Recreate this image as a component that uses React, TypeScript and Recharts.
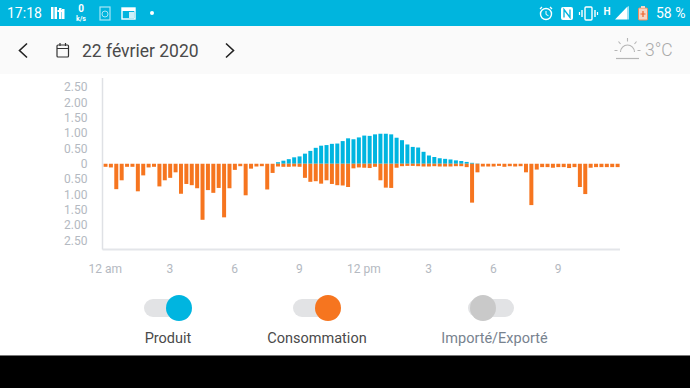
import React from "react";
import { BarChart, Bar, XAxis, YAxis } from "recharts";

const produced = [0,0,0,0,0,0,0,0,0,0,0,0,0,0,0,0,0,0,0,0,0,0,0,0,0,0,0,0,0,0,0,0,
  0.05,0.1,0.15,0.21,0.24,0.33,0.42,0.52,0.59,0.61,0.65,0.66,0.74,0.83,0.8,0.86,0.92,0.91,0.96,0.98,0.98,0.96,0.85,0.77,0.63,0.55,0.53,0.39,0.27,0.22,0.18,0.16,0.14,0.11,0.09,0.06,0.03,0.01,
  0,0,0,0,0,0,0,0,0,0,0,0,0,0,0,0,0,0,0,0,0,0,0,0,0,0];
const consumed = [0.1,0.12,0.83,0.54,0.1,0.1,0.9,0.38,0.12,0.1,0.74,0.54,0.46,0.28,0.98,0.66,0.7,0.8,1.83,0.86,0.95,0.79,1.75,0.8,0.2,0.08,1.03,0.16,0.09,0.08,0.84,0.3,
  0.09,0.1,0.1,0.09,0.1,0.46,0.59,0.57,0.65,0.54,0.66,0.7,0.71,0.76,0.15,0.12,0.13,0.14,0.1,0.54,0.78,0.79,0.13,0.08,0.07,0.07,0.08,0.09,0.09,0.08,0.09,0.09,0.09,0.08,0.08,0.11,1.27,0.28,
  0.09,0.09,0.09,0.07,0.1,0.08,0.09,0.08,0.28,1.35,0.19,0.11,0.11,0.13,0.11,0.11,0.14,0.11,0.76,0.99,0.13,0.11,0.11,0.11,0.11,0.11];
const xTickLabels = ["12 am","3","6","9","12 pm","3","6","9"];
const yTicks = [-2.5,-2,-1.5,-1,-0.5,0,0.5,1,1.5,2,2.5];
const legendItems = [
  { name: "Produit", color: "#00b5e0", knob: 179, left: 144, cx: 168, text: "#4a4a4a" },
  { name: "Consommation", color: "#f6751f", knob: 327.5, left: 293, cx: 317, text: "#4a4a4a" },
  { name: "Importé/Exporté", color: "#c9c9c9", knob: 483, left: 468, cx: 494.5, text: "#78838f" },
];
const rows = produced.map((p, i) => ({ slot: i, produced: p, consumed: -consumed[i] }));

const abs = (style: React.CSSProperties): React.CSSProperties => ({ position: "absolute", ...style });
const font = "Roboto, sans-serif";

function StatusBar() {
  return (
    <div style={abs({ left: 0, top: 0, width: 690, height: 26, background: "#00b5de", color: "#fff", fontFamily: font })}>
      <div style={abs({ left: 7, top: 4, fontSize: 14, lineHeight: "18px" })}>17:18</div>
      <svg width={690} height={26} style={abs({ left: 0, top: 0 })}>
        <g fill="#fff">
          <rect x={51} y={7} width={2.5} height={12} /><rect x={54.5} y={7} width={2.5} height={12} />
          <rect x={59} y={8} width={2.5} height={11} /><rect x={57.5} y={10} width={6} height={2} />
          <rect x={62} y={9} width={2.5} height={10} />
        </g>
        <text x={81} y={12} fontSize={10} fontFamily={font} fontWeight={700} fill="#fff" textAnchor="middle">0</text>
        <text x={81} y={21} fontSize={7} fontFamily={font} fontWeight={700} fill="#fff" textAnchor="middle">k/s</text>
        <rect x={100} y={7} width={10} height={13} fill="none" stroke="#a8e6f5" strokeWidth={1.2} />
        <circle cx={105} cy={14} r={3} fill="none" stroke="#a8e6f5" />
        <rect x={122} y={8} width={13} height={11} fill="none" stroke="#fff" strokeWidth={1.4} />
        <rect x={122} y={8} width={13} height={3} fill="#fff" />
        <rect x={129} y={12} width={5} height={6} fill="#fff" opacity={0.8} />
        <circle cx={152} cy={13} r={2} fill="#fff" />
        <circle cx={546} cy={14} r={5.5} fill="none" stroke="#fff" strokeWidth={1.4} />
        <path d="M546 11v3.5l2.5 1.2" fill="none" stroke="#fff" />
        <path d="M540 9l2-2M552 9l-2-2" stroke="#fff" strokeWidth={1.3} />
        <rect x={561} y={7} width={12} height={13} rx={2} fill="#fff" />
        <path d="M564 17.5v-8l6 8v-8" fill="none" stroke="#00b5de" strokeWidth={1.3} />
        <rect x={585} y={7} width={7} height={13} rx={1} fill="none" stroke="#fff" strokeWidth={1.4} />
        <path d="M582 10v7M595 10v7" stroke="#fff" strokeWidth={1.4} />
        <path d="M579.5 12v3M597.5 12v3" stroke="#fff" strokeWidth={1.2} />
        <text x={607} y={15} fontSize={10} fontFamily={font} fontWeight={700} fill="#fff" textAnchor="middle">H</text>
        <path d="M615 19.5L627 7v12.5z" fill="#fff" />
        <path d="M627 7l2-1v13.5h-2z" fill="#9fe2f3" />
        <rect x={638.5} y={8} width={9} height={12} rx={1} fill="#f3d6c6" stroke="#f08a5a" />
        <rect x={641} y={6} width={4} height={2} fill="#f3d6c6" />
        <path d="M643 11v6M640.5 14h5" stroke="#f0622a" strokeWidth={1.2} />
      </svg>
      <div style={abs({ left: 656, top: 4, fontSize: 14, lineHeight: "18px", whiteSpace: "nowrap", width: 34 })}>58 %</div>
    </div>
  );
}

function Header() {
  return (
    <div style={abs({ left: 0, top: 26, width: 690, height: 48, background: "#fafafa", fontFamily: font })}>
      <svg width={690} height={48} style={abs({ left: 0, top: 0 })}>
        <path d="M27 17.5l-7.5 7 7.5 7" fill="none" stroke="#222" strokeWidth={1.6} />
        <path d="M226 17.5l7.5 7-7.5 7" fill="none" stroke="#222" strokeWidth={1.6} />
        <rect x={57} y={19} width={11.5} height={12} rx={1} fill="none" stroke="#333" strokeWidth={1.2} />
        <path d="M57 22.5h11.5M60 17v3M65.5 17v3" stroke="#333" strokeWidth={1.2} />
        <path d="M620.5 26a7 7 0 0 1 14 0" fill="none" stroke="#b5b5b5" strokeWidth={1.1} />
        <path d="M616 32.5h23" stroke="#b5b5b5" strokeWidth={1.2} />
        <path d="M627.5 12v3.5M618.5 15.5l2 2.5M636.5 15.5l-2 2.5M614.5 24.5h3M637.5 24.5h3" stroke="#b5b5b5" strokeWidth={1.1} />
      </svg>
      <div style={abs({ left: 82, top: 14, fontSize: 17.5, lineHeight: "22px", color: "#4a4a4a", whiteSpace: "nowrap" })}>22 février 2020</div>
      <div style={abs({ left: 645, top: 12, fontSize: 17.5, lineHeight: "24px", color: "#a9a9a9", fontWeight: 300, whiteSpace: "nowrap" })}>3°C</div>
    </div>
  );
}

function Toggles() {
  return (
    <>
      {legendItems.map((it) => (
        <React.Fragment key={it.name}>
          <div style={abs({ left: it.left, top: 299, width: 46, height: 18, borderRadius: 9, background: "#e2e3e5" })} />
          <div style={abs({ left: it.knob - 13, top: 295, width: 26, height: 26, borderRadius: 13, background: it.color })} />
          <div style={abs({ left: it.cx - 70, width: 140, top: 330, textAlign: "center", fontFamily: font, fontSize: 14.5, lineHeight: "18px", color: it.text })}>{it.name}</div>
        </React.Fragment>
      ))}
    </>
  );
}

export default function App() {
  return (
    <div style={abs({ left: 0, top: 0, width: 690, height: 388, background: "#fff", overflow: "hidden" })}>
      <StatusBar />
      <Header />
      <div style={abs({ left: 0, top: 0 })}>
        <BarChart width={620} height={290} data={rows} stackOffset="sign" barCategoryGap={0} margin={{ top: 78, right: 0, bottom: 0, left: 0 }}>
          <XAxis
            dataKey="slot"
            type="category"
            interval={11}
            height={40.5}
            tickLine={false}
            axisLine={{ stroke: "#e3e5e9", strokeWidth: 2 }}
            tick={{ fill: "#b4b9c1", fontSize: 12, fontFamily: font }}
            tickMargin={9}
            tickFormatter={(v: number) => xTickLabels[v / 12]}
          />
          <YAxis
            type="number"
            domain={[-2.8, 2.8]}
            ticks={yTicks}
            interval={0}
            width={102.5}
            tickLine={false}
            axisLine={{ stroke: "#dfe1e5", strokeWidth: 1.5 }}
            tick={{ fill: "#b4b9c1", fontSize: 12, fontFamily: font }}
            tickMargin={9}
            tickFormatter={(v: number) => (v === 0 ? "0" : Math.abs(v).toFixed(2))}
          />
          <Bar dataKey="produced" stackId="a" fill="#00b5e0" barSize={4} isAnimationActive={false} />
          <Bar dataKey="consumed" stackId="a" fill="#f6751f" barSize={4} isAnimationActive={false} />
        </BarChart>
      </div>
      <Toggles />
      <div style={abs({ left: 0, top: 355, width: 690, height: 33, background: "#000", borderTop: "1px solid #777", boxSizing: "border-box" })} />
    </div>
  );
}
